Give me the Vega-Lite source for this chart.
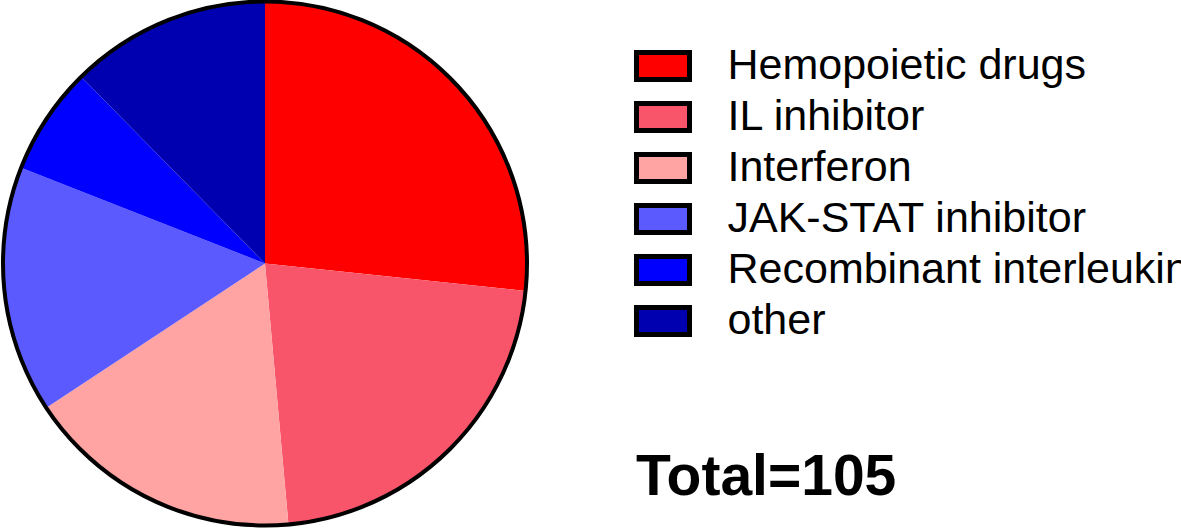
{
  "$schema": "https://vega.github.io/schema/vega-lite/v6.json",
  "width": 530,
  "height": 527,
  "padding": {"left": 0, "top": 0, "right": 651, "bottom": 4},
  "autosize": {"type": "none"},
  "background": "white",
  "config": {"view": {"stroke": null}},
  "layer": [
    {
      "data": {
        "values": [
          {"category": "Hemopoietic drugs", "count": 28, "idx": 1},
          {"category": "IL inhibitor", "count": 23, "idx": 2},
          {"category": "Interferon", "count": 18, "idx": 3},
          {"category": "JAK-STAT inhibitor", "count": 16, "idx": 4},
          {"category": "Recombinant interleukin", "count": 7, "idx": 5},
          {"category": "other", "count": 13, "idx": 6}
        ]
      },
      "mark": {"type": "arc", "outerRadius": 262},
      "encoding": {
        "theta": {"field": "count", "type": "quantitative", "stack": true},
        "order": {"field": "idx", "type": "quantitative", "sort": "ascending"},
        "color": {
          "field": "category",
          "type": "nominal",
          "sort": ["Hemopoietic drugs", "IL inhibitor", "Interferon", "JAK-STAT inhibitor", "Recombinant interleukin", "other"],
          "scale": {
            "domain": ["Hemopoietic drugs", "IL inhibitor", "Interferon", "JAK-STAT inhibitor", "Recombinant interleukin", "other"],
            "range": ["#FF0000", "#F8546A", "#FFA3A3", "#5A5AFF", "#0000FF", "#0000B0"]
          },
          "legend": {
            "orient": "none",
            "legendX": 636,
            "legendY": 39,
            "padding": 0,
            "title": "Total=105",
            "titleOrient": "bottom",
            "titleAnchor": "start",
            "titleFont": "Liberation Sans",
            "titleFontSize": 57,
            "titleFontWeight": "bold",
            "titleColor": "black",
            "titlePadding": 106,
            "titleLimit": 0,
            "labelFont": "Liberation Sans",
            "labelFontSize": 43,
            "labelColor": "black",
            "labelLimit": 0,
            "labelOffset": 37.5,
            "symbolType": "M-1.082,-0.55H1.082V0.55H-1.082Z",
            "symbolSize": 2401,
            "symbolStrokeWidth": 5,
            "symbolStrokeColor": "black",
            "symbolOpacity": 1,
            "rowPadding": 0
          }
        }
      }
    },
    {
      "data": {"values": [{"ring": "outline"}]},
      "mark": {"type": "arc", "outerRadius": 262, "filled": false, "stroke": "black", "strokeWidth": 4},
      "encoding": {
        "theta": {"value": 0},
        "theta2": {"value": 6.2832}
      }
    }
  ]
}
